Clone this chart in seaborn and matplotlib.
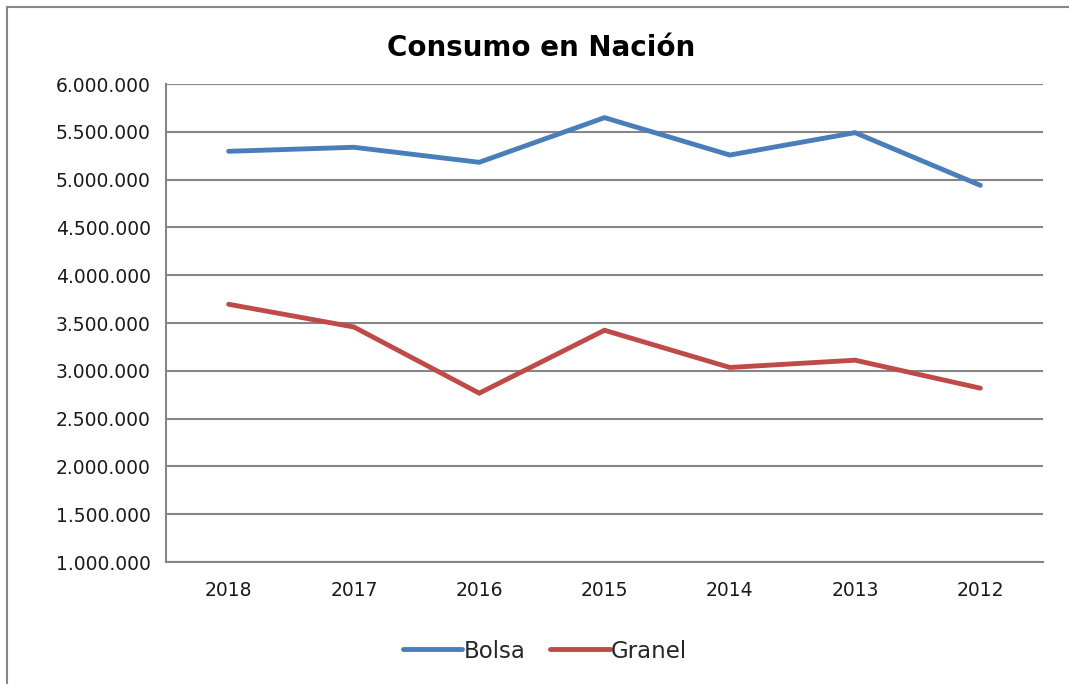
import matplotlib
matplotlib.use("Agg")
import matplotlib.pyplot as plt
import seaborn as sns
import pandas as pd
from matplotlib.lines import Line2D
from matplotlib.ticker import FuncFormatter, FixedLocator

years = ["2018", "2017", "2016", "2015", "2014", "2013", "2012"]
bolsa = [5296000, 5338000, 5181000, 5648000, 5257000, 5491000, 4940000]
granel = [3696000, 3458000, 2766000, 3424000, 3035000, 3111000, 2818000]
series_names = ["Bolsa", "Granel"]
colors = ["#4A7EBB", "#BE4B48"]
title = "Consumo en Nación"

df = pd.DataFrame({"year": years * 2,
                   "value": bolsa + granel,
                   "serie": [series_names[0]] * len(years) + [series_names[1]] * len(years)})

sns.set_style("white")
plt.rcParams['font.family'] = ['DejaVu Sans']

fig = plt.figure(figsize=(10.69, 6.84), dpi=100)
ax = fig.add_axes([166/1069, 1 - 562/684, (1043-166)/1069, (562-84)/684])

sns.lineplot(data=df, x="year", y="value", hue="serie", palette=colors,
             linewidth=3.5, ax=ax, legend=False, sort=False)
for ln in ax.get_lines():
    ln.set_solid_capstyle("round")
    ln.set_solid_joinstyle("miter")

ax.set_xlim(-0.5, len(years) - 0.5)
ax.set_ylim(1000000, 6000000)
ax.set_yticks(range(1000000, 6000001, 500000))
ax.yaxis.set_major_formatter(FuncFormatter(lambda v, p: f"{int(v):,}".replace(",", ".")))
ax.set_xticks(range(len(years)))
ax.set_xticklabels(years)
ax.xaxis.set_minor_locator(FixedLocator([i - 0.5 for i in range(len(years) + 1)]))
ax.tick_params(axis="x", which="major", length=0, pad=14, labelsize=13.5, labelcolor="#1a1a1a")
ax.tick_params(axis="x", which="minor", length=6, width=1.5, color="#868686", direction="out")
ax.tick_params(axis="y", which="major", length=6, width=1.5, color="#868686", direction="out",
               labelsize=13.5, labelcolor="#1a1a1a", pad=5)
ax.set_xlabel("")
ax.set_ylabel("")
ax.grid(axis="y", color="#868686", linewidth=1.5)
ax.set_axisbelow(True)
for s in ["top", "right"]:
    ax.spines[s].set_visible(False)
for s in ["left", "bottom"]:
    ax.spines[s].set_color("#868686")
    ax.spines[s].set_linewidth(1.5)

fig.text(541/1069, 1 - 48/684, title, ha="center", va="center",
         fontsize=20, fontweight="bold", color="black")

handles = [Line2D([0], [0], color=c, linewidth=3.5) for c in colors]
fig.legend(handles, series_names, loc="center", bbox_to_anchor=(545/1069, 1 - 651/684),
           ncol=2, frameon=False, fontsize=16.5, handlelength=2.6, handletextpad=0.05,
           columnspacing=1.1)

# outer chart border (left and top)
fig.add_artist(Line2D([6.5/1069, 6.5/1069], [0, 1 - 6.5/684], color="#868686", linewidth=1.5,
                      transform=fig.transFigure))
fig.add_artist(Line2D([6.5/1069, 1], [1 - 6.5/684, 1 - 6.5/684], color="#868686", linewidth=1.5,
                      transform=fig.transFigure))

fig.savefig("out.png", dpi=100)
